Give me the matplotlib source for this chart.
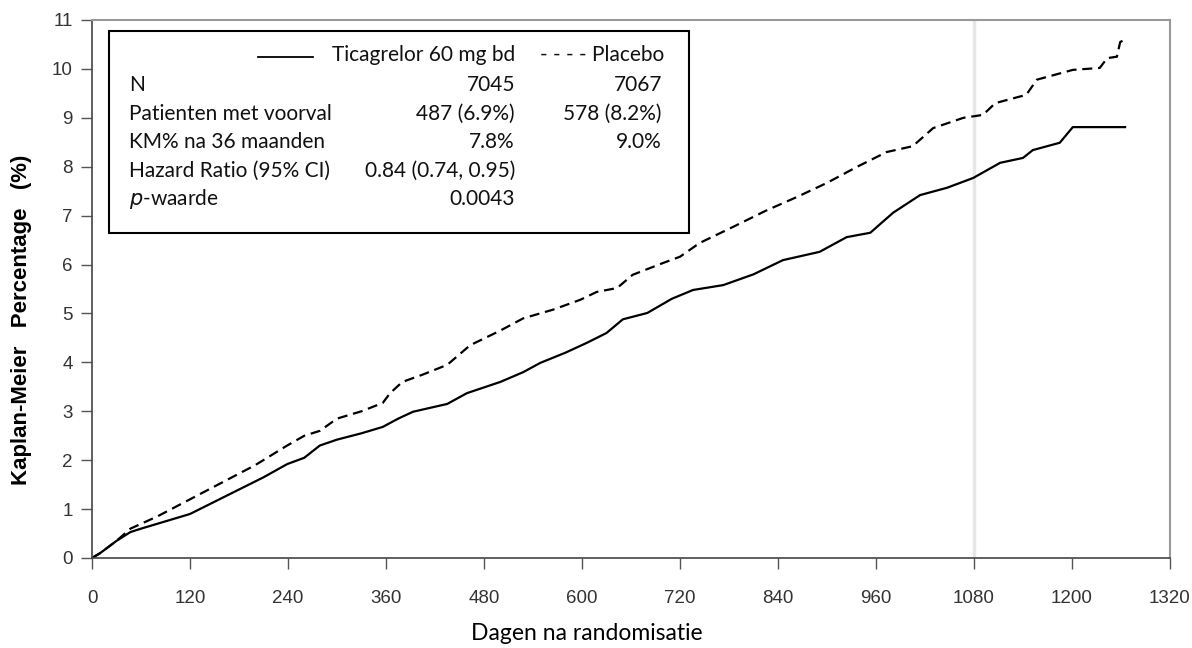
import matplotlib.pyplot as plt
from matplotlib.patches import Rectangle

# Kaplan-Meier curves (days, %)
tica_days = [0, 10, 30, 47, 60, 90, 120, 150, 180, 210, 239, 260, 279, 300, 330, 356, 375, 393,
             435, 459, 500, 528, 549, 580, 606, 630, 650, 680, 710, 736, 773, 810, 846, 891,
             924, 953, 981, 1014, 1047, 1079, 1112, 1140, 1152, 1185, 1201, 1265]
tica_pct = [0, 0.1, 0.35, 0.53, 0.6, 0.75, 0.9, 1.15, 1.4, 1.65, 1.92, 2.05, 2.3, 2.42, 2.55, 2.68, 2.85, 2.99,
            3.15, 3.37, 3.6, 3.8, 3.99, 4.2, 4.4, 4.6, 4.88, 5.01, 5.3, 5.48, 5.58, 5.8, 6.09, 6.26,
            6.56, 6.65, 7.06, 7.42, 7.57, 7.77, 8.08, 8.18, 8.34, 8.49, 8.81, 8.81]

plac_days = [0, 10, 30, 47, 80, 120, 160, 200, 239, 260, 279, 300, 330, 356, 365, 380, 405, 435,
             463, 500, 528, 565, 598, 618, 643, 662, 699, 720, 744, 785, 825, 863, 900, 937, 973,
             1005, 1030, 1067, 1091, 1106, 1144, 1157, 1201, 1234, 1243, 1255, 1259, 1265]
plac_pct = [0, 0.1, 0.35, 0.6, 0.85, 1.2, 1.55, 1.9, 2.3, 2.5, 2.6, 2.85, 3.0, 3.17, 3.37, 3.6, 3.75, 3.95,
            4.35, 4.65, 4.9, 5.08, 5.28, 5.44, 5.52, 5.79, 6.03, 6.16, 6.44, 6.77, 7.1, 7.38, 7.67, 8.0, 8.3,
            8.42, 8.79, 9.0, 9.06, 9.3, 9.47, 9.78, 9.98, 10.02, 10.22, 10.25, 10.55, 10.6]

x_ticks = list(range(0, 1321, 120))
y_ticks = list(range(0, 12))

row_labels = ["N", "Patienten met voorval", "KM% na 36 maanden", "Hazard Ratio (95% CI)", "p-waarde"]
col_tica = ["7045", "487 (6.9%)", "7.8%", "0.84 (0.74, 0.95)", "0.0043"]
col_plac = ["7067", "578 (8.2%)", "9.0%", "", ""]

W, H = 1192, 648
fig = plt.figure(figsize=(W / 100, H / 100), dpi=100)
ax = fig.add_axes([92 / W, (H - 558) / H, (1170 - 92) / W, (558 - 20) / H])

ax.axvline(1080, color='#e6e6e6', lw=2.5, zorder=0)
ax.plot(tica_days, tica_pct, color='black', lw=1.6)
ax.plot(plac_days, plac_pct, color='black', lw=1.6, dashes=(4.5, 2.6))

ax.set_xlim(0, 1320)
ax.set_ylim(0, 11)
ax.set_xticks(x_ticks)
ax.set_yticks(y_ticks)
for lab in ax.get_xticklabels() + ax.get_yticklabels():
    lab.set_fontfamily('Liberation Sans')
    lab.set_fontsize(13.5)
    lab.set_color('#333333')
ax.tick_params(axis='x', direction='out', length=8, width=1, color='#555555', pad=15)
ax.tick_params(axis='y', direction='out', length=8, width=1, color='#555555', pad=6)
for side in ['left', 'bottom']:
    ax.spines[side].set_color('#444444')
    ax.spines[side].set_linewidth(1.2)
for side in ['top', 'right']:
    ax.spines[side].set_color('#999999')
    ax.spines[side].set_linewidth(1.5)

fig.text(22 / W, 1 - 320 / H, "Kaplan-Meier   Percentage   (%)", rotation=90,
         fontfamily='Liberation Sans', fontweight='bold', fontsize=16,
         ha='center', va='center')
fig.text(587 / W, 1 - 634 / H, "Dagen na randomisatie", fontfamily='Lato', fontsize=16.5,
         ha='center', va='center')

# summary box
fig.add_artist(Rectangle((109 / W, 1 - 233 / H), 580 / W, 202 / H, transform=fig.transFigure,
                         fill=True, facecolor='white', edgecolor='black', lw=1.5))
tfont = dict(fontfamily='Lato', fontsize=15, color='#111111', va='center')
fig.add_artist(plt.Line2D([258 / W, 313 / W], [1 - 57 / H, 1 - 57 / H], transform=fig.transFigure,
                          color='black', lw=1.3))
fig.text(515 / W, 1 - 55 / H, "Ticagrelor 60 mg bd", ha='right', **tfont)
fig.text(664 / W, 1 - 55 / H, "- - - - Placebo", ha='right', **tfont)
for i, (lab, a, b) in enumerate(zip(row_labels, col_tica, col_plac)):
    y = 1 - (85 + i * 28.5) / H
    if lab.startswith("p-"):
        fig.text(129 / W, y, r"$\it{p}$" + "-waarde", ha='left', **tfont)
    else:
        fig.text(129 / W, y, lab, ha='left', **tfont)
    fig.text(515 / W, y, a, ha='right', **tfont)
    if b:
        fig.text(662 / W, y, b, ha='right', **tfont)

fig.savefig("out.png", dpi=100)
